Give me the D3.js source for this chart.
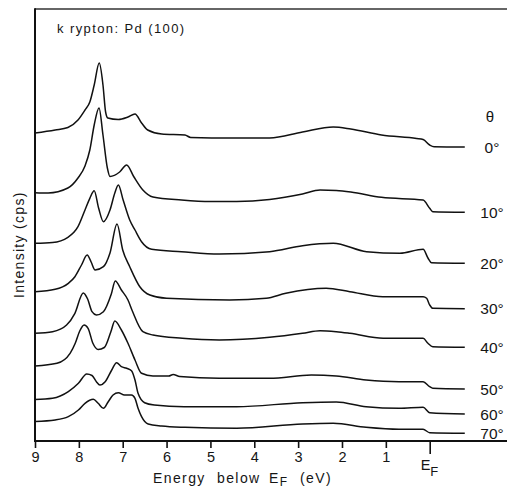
<!DOCTYPE html>
<html>
<head>
<meta charset="utf-8">
<script src="https://cdn.jsdelivr.net/npm/d3@7"></script>
<style>
  body { margin: 0; background: #fff; }
  text { font-family: "Liberation Sans", Arial, sans-serif; fill: #151515; }
</style>
</head>
<body>
<svg id="chart" width="507" height="487"></svg>
<script>
// emission angles, one spectrum each (energy below EF in eV, intensity in arbitrary cps)
var angles = [0, 10, 20, 30, 40, 50, 60, 70];

var spectrum0 = [[9, 308], [8.54, 311], [8.25, 313.5], [8.02, 321], [7.86, 331], [7.75, 339], [7.65, 356],
  [7.535, 378], [7.45, 356], [7.39, 329], [7.34, 323], [7.1, 321.5], [6.88, 324], [6.72, 327], [6.57, 318],
  [6.43, 311], [6.11, 307], [5.58, 306], [5.45, 303.5], [4.5, 303], [3.65, 303], [2.9, 309], [2.2, 314],
  [1.8, 312], [1.1, 306], [0.3, 302.5], [0.15, 301.5], [0, 296], [-0.1, 294.3], [-0.8, 294]];
var spectrum10 = [[9, 248.3], [8.7, 248], [8.25, 253], [8.02, 263], [7.86, 275], [7.75, 291], [7.65, 316],
  [7.54, 333], [7.45, 306], [7.35, 273], [7.29, 264.5], [7.07, 269], [6.91, 276], [6.75, 264.5], [6.54, 251],
  [6.31, 244], [5.66, 241], [5, 239.5], [4.4, 239.5], [3.65, 241.5], [2.9, 247], [2.5, 251], [2.13, 250.5],
  [1.8, 249], [1.1, 243.7], [0.15, 241], [0, 232.7], [-0.07, 229.3], [-0.8, 228.7]];
var spectrum20 = [[9, 197.7], [8.6, 198.5], [8.25, 203.7], [8.02, 214.3], [7.86, 231], [7.75, 242.7],
  [7.65, 250.3], [7.55, 233], [7.44, 219.3], [7.29, 231], [7.18, 248], [7.1, 256], [6.99, 241], [6.84, 221],
  [6.72, 211], [6.57, 199.3], [6.34, 191.7], [5.66, 189.3], [4.8, 187], [3.65, 189.3], [2.9, 195.3],
  [2.2, 197.7], [1.44, 189.3], [0.68, 187.7], [0.15, 191.7], [0.04, 183], [-0.04, 178.3], [-0.8, 177.7]];
var spectrum30 = [[9, 149.3], [8.54, 151.7], [8.24, 157.7], [8.09, 164.3], [7.94, 176], [7.81, 186],
  [7.72, 179], [7.63, 171], [7.44, 174.3], [7.29, 188], [7.13, 217], [7, 191], [6.84, 174.3], [6.61, 154.3],
  [6.38, 146], [6, 142.7], [4.56, 141], [3.73, 142.7], [3.28, 147.7], [2.36, 152.7], [1.82, 149.3],
  [1.07, 144.3], [0.15, 144.3], [0.07, 142.7], [0, 136], [-0.07, 132.7], [-0.8, 132.3]];
var spectrum40 = [[9, 107.7], [8.6, 109.3], [8.28, 116], [8.09, 127.7], [7.9, 148], [7.8, 142], [7.7, 129.3],
  [7.6, 126], [7.44, 129.3], [7.26, 147], [7.17, 160], [7.03, 151], [6.88, 141], [6.78, 130], [6.54, 109.3],
  [6.31, 106], [5.64, 102.7], [4.8, 101], [3.65, 103.7], [2.9, 107.7], [2.5, 110.3], [2.13, 109.3],
  [1.82, 107.7], [1.06, 102.7], [0.15, 102.7], [0.04, 97.7], [-0.07, 94.3], [-0.8, 93.7]];
var spectrum50 = [[9, 75], [8.5, 77.7], [8.2, 87.7], [8.08, 98], [7.98, 110], [7.88, 116], [7.79, 112.7],
  [7.68, 97.7], [7.56, 91.5], [7.42, 93.5], [7.27, 109.3], [7.18, 120], [7.03, 111], [6.88, 97.7], [6.72, 81],
  [6.57, 67.7], [6.31, 65], [5.95, 65], [5.85, 66.5], [5.7, 64.5], [4.8, 62.7], [3.65, 62.7], [2.7, 66],
  [2.13, 65], [1.45, 61], [0.7, 59.3], [0.15, 59.3], [0, 54.3], [-0.07, 52.7], [-0.8, 52]];
var spectrum60 = [[9, 41.5], [8.6, 42.7], [8.24, 49.3], [8.01, 57.7], [7.82, 67], [7.7, 65.5], [7.6, 59.3],
  [7.52, 56], [7.4, 59.3], [7.25, 71], [7.14, 78.3], [7.03, 74.3], [6.91, 72.7], [6.8, 70.3], [6.72, 61],
  [6.65, 47.7], [6.5, 38.3], [6.28, 36], [5.6, 34.3], [4.4, 34.3], [2.9, 38.3], [2.13, 39], [1.45, 34.3],
  [0.7, 32.7], [0.15, 33.7], [0, 28.3], [-0.8, 27]];
var spectrum70 = [[9, 19.5], [8.54, 21], [8.24, 24.3], [8.01, 31], [7.86, 37.7], [7.67, 41.7], [7.56, 37.7],
  [7.44, 32.7], [7.33, 39.3], [7.22, 46], [7.1, 48.3], [6.96, 46], [6.8, 46], [6.72, 42.7], [6.65, 32.7],
  [6.57, 24.3], [6.42, 17], [6.11, 15], [5.58, 13.7], [4.4, 12.7], [2.9, 17], [2.2, 17.7], [1.45, 13.7],
  [0.7, 11.7], [0.15, 11.7], [0, 8.3], [-0.8, 7.7]];

var spectra = [spectrum0, spectrum10, spectrum20, spectrum30, spectrum40, spectrum50, spectrum60, spectrum70];

var energyTicks = [9, 8, 7, 6, 5, 4, 3, 2, 1, 0];

(function(){
    var width = 507,
        plotLeft = 35,
        plotTop = 9,
        plotBottom = 441;

    var x = d3.scaleLinear().domain([9, 0]).range([plotLeft, 429.7]);
    var y = d3.scaleLinear().domain([0, 432]).range([plotBottom, plotTop]);

    var svg = d3.select('#chart');

    // frame: top rule, left and bottom axes
    svg.append('line')
        .attr('x1', plotLeft).attr('x2', width)
        .attr('y1', plotTop).attr('y2', plotTop)
        .attr('stroke', '#333').attr('stroke-width', 1.6);
    svg.append('line')
        .attr('x1', plotLeft).attr('x2', plotLeft)
        .attr('y1', plotTop - 0.8).attr('y2', plotBottom + 1)
        .attr('stroke', '#111').attr('stroke-width', 2);

    var xAxis = d3.axisBottom(x)
        .tickValues(energyTicks)
        .tickSize(7)
        .tickSizeOuter(0)
        .tickFormat(function(d){ return d === 0 ? '' : d; });

    var gx = svg.append('g')
        .attr('transform', 'translate(0,' + plotBottom + ')')
        .call(xAxis);
    gx.select('.domain').remove();
    gx.selectAll('.tick line').attr('stroke', '#111').attr('stroke-width', 1.6);
    gx.selectAll('.tick line').filter(function(d){ return d === 0; }).attr('y2', 13);
    gx.selectAll('.tick text')
        .attr('y', 11)
        .style('font-family', '"Liberation Sans", Arial, sans-serif')
        .style('font-size', '14.5px')
        .attr('fill', '#151515');

    svg.append('line')
        .attr('x1', plotLeft - 1).attr('x2', width)
        .attr('y1', plotBottom).attr('y2', plotBottom)
        .attr('stroke', '#111').attr('stroke-width', 2);

    // EF label under the zero tick
    var ef = svg.append('text')
        .attr('x', x(0) - 9)
        .attr('y', 470)
        .style('font-size', '14.5px');
    ef.append('tspan').text('E');
    ef.append('tspan').attr('dy', 6).style('font-size', '13px').text('F');

    // axis titles
    var xt = svg.append('text')
        .attr('y', 483)
        .style('font-size', '14px')
        .style('letter-spacing', '1.4px');
    xt.append('tspan').attr('x', 153).text('Energy');
    xt.append('tspan').attr('x', 217).text('below');
    xt.append('tspan').attr('x', 269).text('E');
    xt.append('tspan').attr('dy', 3).style('font-size', '12px').text('F');
    xt.append('tspan').attr('x', 300).attr('dy', -3).text('(eV)');

    svg.append('text')
        .attr('transform', 'translate(24,298) rotate(-90)')
        .style('font-size', '14px')
        .style('letter-spacing', '1.3px')
        .text('Intensity (cps)');

    svg.append('text')
        .attr('x', 57)
        .attr('y', 33)
        .style('font-size', '13px')
        .style('letter-spacing', '1.4px')
        .text('k rypton: Pd (100)');

    // spectra
    var line = d3.line()
        .x(function(d){ return x(d[0]); })
        .y(function(d){ return y(d[1]); })
        .curve(d3.curveMonotoneX);

    svg.append('g')
        .selectAll('path')
        .data(spectra)
        .enter()
        .append('path')
        .attr('d', line)
        .attr('fill', 'none')
        .attr('stroke', '#111')
        .attr('stroke-width', 1.5)
        .attr('stroke-linejoin', 'round');

    // angle labels at the end of each trace
    svg.append('text')
        .attr('x', 490)
        .attr('y', y(spectrum0[spectrum0.length - 1][1]) - 30)
        .attr('dy', '0.35em')
        .attr('text-anchor', 'middle')
        .style('font-size', '15px')
        .text('θ');

    svg.append('g')
        .selectAll('text')
        .data(angles)
        .enter()
        .append('text')
        .attr('x', 492)
        .attr('y', function(d, i){ var s = spectra[i]; return y(s[s.length - 1][1]); })
        .attr('dy', '0.36em')
        .attr('text-anchor', 'middle')
        .style('font-size', '15.5px')
        .text(function(d){ return d + '°'; });
})();
</script>
</body>
</html>
